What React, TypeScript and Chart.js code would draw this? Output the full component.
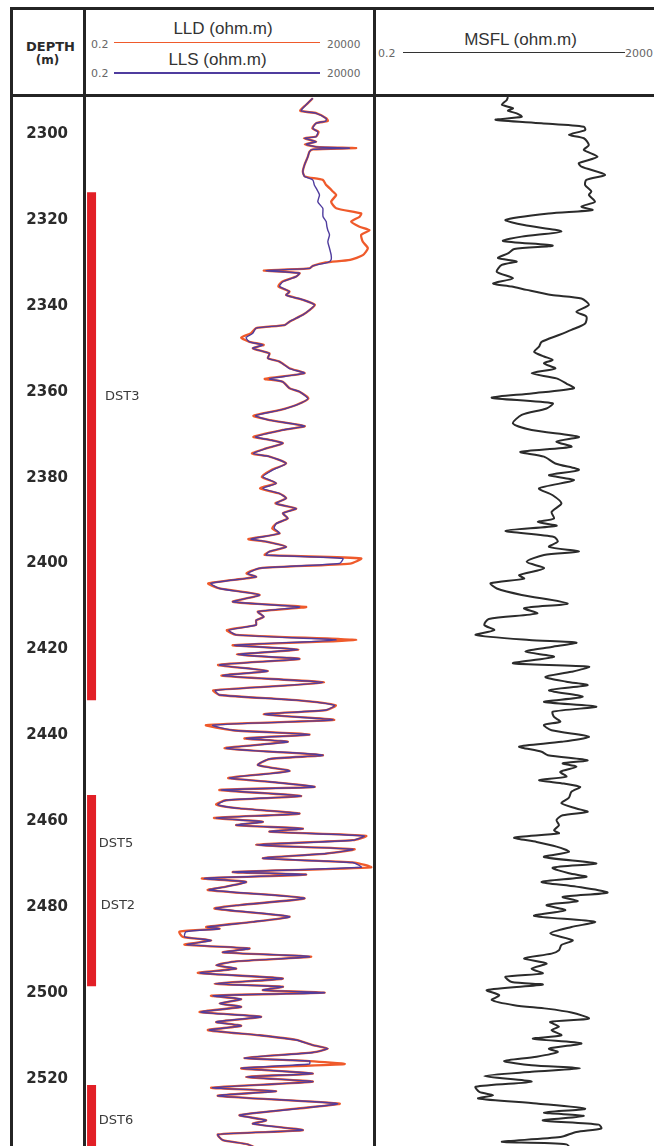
import React, { useEffect, useRef } from "react";
import { Chart, registerables } from "chart.js";

Chart.register(...registerables);

// ---------------- data ----------------
const DEPTH_MIN = 2291.4;
const DEPTH_MAX = 2540;
const DEPTH_TICKS = [2300, 2320, 2340, 2360, 2380, 2400, 2420, 2440, 2460, 2480, 2500, 2520];

const LL_RANGE = [0.2, 20000];
const MSFL_RANGE = [0.2, 2000];

// depth (m) of the laterolog samples
const LL_DEPTH = [
  2291.7, 2293.2, 2294.6, 2295.2, 2296.4, 2297.0, 2297.5, 2298.7, 2299.5, 2300.6,
  2301.0, 2301.8, 2302.4, 2303.0, 2303.3, 2303.6, 2304.1, 2305.3, 2307.2, 2308.8,
  2309.9, 2310.7, 2311.9, 2312.6, 2313.4, 2314.2, 2315.8, 2317.3, 2318.5, 2319.3,
  2320.4, 2321.6, 2322.4, 2323.5, 2325.1, 2326.6, 2328.2, 2329.3, 2329.9, 2330.7,
  2331.3, 2331.8, 2332.4, 2333.2, 2334.4, 2335.5, 2336.7, 2337.5, 2338.6, 2339.8,
  2341.0, 2342.1, 2343.7, 2344.5, 2345.2, 2346.4, 2347.4, 2348.4, 2349.1, 2349.9,
  2351.1, 2352.2, 2353.0, 2354.6, 2355.7, 2357.0, 2357.7, 2359.2, 2360.0, 2361.6,
  2363.1, 2364.3, 2365.6, 2366.6, 2368.0, 2368.9, 2370.5, 2371.2, 2372.0, 2373.2,
  2374.4, 2375.1, 2376.7, 2378.2, 2379.8, 2381.3, 2382.5, 2383.7, 2384.8, 2386.0,
  2387.2, 2388.3, 2389.5, 2390.7, 2391.8, 2393.0, 2394.3, 2394.9, 2396.1, 2397.2,
  2398.0, 2398.8, 2400.0, 2401.1, 2402.3, 2403.1, 2404.6, 2405.8, 2407.3, 2408.9,
  2410.1, 2411.2, 2412.4, 2413.2, 2414.3, 2415.5, 2416.6, 2417.8, 2419.0, 2420.0,
  2421.2, 2422.2, 2423.6, 2425.0, 2426.1, 2427.7, 2429.5, 2430.6, 2431.8, 2433.0,
  2434.1, 2435.1, 2436.4, 2437.6, 2438.8, 2439.8, 2440.7, 2441.5, 2443.0, 2444.6,
  2445.5, 2446.9, 2448.3, 2449.9, 2450.8, 2452.0, 2452.7, 2454.1, 2455.1, 2456.1,
  2457.0, 2458.2, 2459.2, 2460.1, 2460.9, 2461.7, 2462.4, 2463.4, 2464.4, 2465.5,
  2466.5, 2467.5, 2468.6, 2469.6, 2470.7, 2471.8, 2472.4, 2473.3, 2474.1, 2475.2,
  2476.0, 2477.9, 2479.5, 2480.3, 2482.2, 2483.4, 2484.6, 2485.0, 2485.7, 2486.9,
  2487.7, 2488.7, 2489.6, 2490.5, 2491.5, 2492.6, 2493.5, 2494.3, 2495.3, 2496.6,
  2497.8, 2498.5, 2499.3, 2499.9, 2500.6, 2501.4, 2502.4, 2503.2, 2504.4, 2505.5,
  2506.7, 2507.6, 2508.6, 2509.8, 2510.9, 2512.1, 2512.9, 2513.8, 2515.1, 2515.8,
  2516.5, 2517.5, 2518.7, 2519.5, 2520.6, 2522.0, 2522.8, 2523.9, 2525.7, 2526.9,
  2528.4, 2529.6, 2530.4, 2531.9, 2532.9, 2534.2, 2535.2, 2537.0,
];

// LLS resistivity (ohm.m)
const LLS = [
  1790, 1370, 1121, 2046, 3055, 3000, 2046, 1790, 2188, 2046,
  1282, 2046, 1370, 2046, 7797, 1800, 1566, 1465, 1282, 1199,
  1282, 1790, 1900, 2046, 2200, 2339, 2188, 2673, 2673, 2700,
  3055, 3150, 3266, 3492, 3266, 3492, 3733, 3733, 3300, 1790,
  1566, 275, 1049, 918, 538, 470, 702, 614, 1199, 1914,
  1566, 1199, 702, 575, 184, 161, 123, 141, 241, 161,
  315, 294, 470, 702, 1282, 315, 538, 702, 1049, 1465,
  918, 470, 180, 315, 1282, 538, 180, 315, 538, 275,
  165, 315, 614, 360, 241, 411, 240, 470, 614, 411,
  918, 538, 657, 411, 380, 470, 150, 275, 614, 315,
  275, 5962, 5221, 211, 132, 184, 30, 42.4, 211, 72.3,
  1049, 197, 250, 184, 184, 62, 82.7, 4565, 77.3, 981,
  88.4, 1049, 42.4, 294, 48.4, 2673, 36, 42.4, 918, 4270,
  3055, 258, 3993, 32.4, 72.3, 1566, 123, 657, 55.3, 2673,
  315, 197, 702, 63.3, 315, 1914, 45.3, 1121, 55.3, 39.6,
  94.5, 1049, 37.1, 241, 82.7, 1199, 315, 14000, 8909, 184,
  8909, 3055, 241, 8909, 12443, 72.3, 1370, 23.2, 123, 55.3,
  28, 1282, 94.5, 36, 702, 161, 26, 42.4, 11, 10.5,
  30.3, 11.5, 141, 48.4, 1566, 82.7, 37.1, 82.7, 19.5, 538,
  34.7, 538, 241, 2857, 33, 101, 42.4, 101, 20, 225,
  37.1, 101, 28, 211, 918, 1790, 3266, 1790, 115, 1566,
  1566, 101, 1790, 123, 1790, 32, 411, 39.6, 4800, 918,
  94.5, 275, 161, 1199, 39.6, 48.4, 132, 250,
];

// LLD resistivity (ohm.m)
const LLD = [
  1790, 1370, 1080, 2100, 3100, 3266, 2046, 1750, 2250, 2046,
  1250, 2046, 1300, 2046, 10180, 1800, 1566, 1465, 1282, 1199,
  1300, 2673, 3055, 3500, 3993, 4565, 3733, 4565, 12443, 11640,
  8333, 11640, 17374, 12443, 13304, 16256, 13304, 8000, 3000, 1790,
  1566, 250, 1049, 918, 520, 450, 702, 614, 1199, 1950,
  1566, 1199, 702, 575, 184, 150, 101, 141, 250, 161,
  315, 294, 470, 720, 1282, 260, 538, 702, 1049, 1500,
  918, 470, 165, 315, 1300, 538, 165, 315, 538, 275,
  155, 315, 614, 340, 230, 411, 215, 470, 614, 400,
  918, 538, 657, 411, 350, 470, 135, 275, 614, 315,
  260, 12443, 8000, 211, 125, 184, 27, 42.4, 211, 72.3,
  1370, 197, 250, 184, 184, 57, 82.7, 10180, 72, 1000,
  85, 1049, 40, 294, 46, 2800, 33, 42.4, 918, 4500,
  3055, 250, 4200, 24.8, 72.3, 1566, 115, 657, 52, 2673,
  315, 197, 702, 60, 315, 1914, 42, 1121, 55.3, 37,
  94.5, 1049, 34, 241, 82.7, 1199, 315, 15200, 8909, 184,
  9500, 3055, 241, 9500, 18577, 72.3, 1370, 21, 123, 55.3,
  26.5, 1282, 94.5, 34.7, 702, 161, 24.8, 42.4, 8.5, 9.7,
  30.3, 10.4, 141, 48.4, 1675, 82.7, 37.1, 82.7, 17.8, 538,
  34.7, 538, 241, 2857, 30.3, 101, 42.4, 101, 19, 225,
  37.1, 101, 26.5, 211, 918, 1790, 3266, 1790, 115, 1566,
  6378, 101, 1790, 123, 1790, 30.3, 411, 39.6, 5221, 918,
  94.5, 275, 161, 1199, 39.6, 48.4, 132, 250,
];

// depth (m) of the MSFL samples
const MSFL_DEPTH = [
  2291.4, 2292.1, 2293.2, 2294.0, 2294.6, 2295.2, 2296.0, 2296.7, 2297.5, 2298.3,
  2299.1, 2300.2, 2301.0, 2302.6, 2303.7, 2305.3, 2306.8, 2307.6, 2309.5, 2310.7,
  2311.9, 2313.4, 2314.2, 2315.8, 2316.9, 2317.7, 2318.5, 2320.0, 2321.2, 2322.7,
  2323.9, 2324.9, 2326.0, 2326.8, 2327.8, 2328.9, 2329.7, 2330.5, 2332.1, 2333.6,
  2334.8, 2335.5, 2336.3, 2337.5, 2338.3, 2339.8, 2341.4, 2342.5, 2344.1, 2345.6,
  2346.8, 2348.4, 2349.5, 2350.7, 2351.8, 2352.6, 2353.4, 2354.6, 2355.7, 2356.9,
  2358.1, 2359.2, 2360.4, 2361.4, 2362.7, 2363.9, 2365.4, 2367.4, 2368.9, 2370.5,
  2371.6, 2372.8, 2374.0, 2375.1, 2376.7, 2378.2, 2379.4, 2380.6, 2382.5, 2384.1,
  2386.0, 2388.0, 2389.5, 2390.3, 2391.2, 2392.4, 2393.8, 2394.9, 2396.1, 2397.2,
  2398.0, 2399.6, 2401.1, 2402.7, 2403.5, 2404.6, 2405.8, 2407.3, 2409.3, 2410.4,
  2411.6, 2412.9, 2414.3, 2415.5, 2416.6, 2417.8, 2418.4, 2419.4, 2420.5, 2421.7,
  2423.2, 2424.0, 2425.2, 2426.4, 2427.5, 2428.3, 2429.5, 2431.0, 2432.2, 2433.3,
  2434.5, 2435.7, 2436.8, 2437.6, 2438.8, 2440.3, 2441.5, 2442.6, 2443.8, 2444.6,
  2445.8, 2446.5, 2447.3, 2448.5, 2449.6, 2450.4, 2451.2, 2452.0, 2453.1, 2454.5,
  2455.8, 2457.0, 2457.8, 2458.6, 2459.7, 2460.9, 2462.1, 2462.8, 2463.8, 2464.8,
  2465.9, 2467.1, 2468.3, 2469.8, 2470.8, 2472.1, 2472.9, 2474.1, 2475.2, 2476.6,
  2477.6, 2478.6, 2479.5, 2480.7, 2482.0, 2483.4, 2484.6, 2486.1, 2487.7, 2488.8,
  2490.0, 2490.8, 2491.9, 2493.1, 2494.3, 2495.4, 2496.2, 2497.4, 2498.0, 2499.3,
  2500.5, 2501.6, 2502.8, 2503.6, 2504.5, 2505.9, 2506.7, 2507.8, 2508.6, 2509.8,
  2510.6, 2511.7, 2512.9, 2513.7, 2514.8, 2515.8, 2516.8, 2517.5, 2518.3, 2519.3,
  2520.6, 2521.8, 2523.0, 2523.8, 2524.5, 2525.7, 2526.9, 2527.8, 2528.6, 2529.6,
  2530.6, 2531.5, 2532.3, 2533.5, 2534.6, 2535.2, 2537.0,
];

// MSFL resistivity (ohm.m)
const MSFL = [
  2.5, 2.37, 1.92, 3.1, 2.5, 3.63, 4.5, 1.47, 10.55, 64.6,
  68.2, 34.1, 64.6, 80.0, 64.6, 116, 52.2, 58.1, 160, 71.9,
  68.2, 89.0, 80.0, 104, 58.1, 93.9, 14.5, 2.25, 5.0, 24.7,
  4.5, 2.02, 17.0, 3.27, 2.5, 1.63, 3.63, 1.92, 1.55, 3.1,
  1.32, 2.94, 5.56, 16.2, 58.1, 80.0, 46.9, 71.9, 68.2, 37.9,
  22.2, 10.55, 9.48, 7.66, 11.7, 17.0, 11.7, 19.0, 6.89, 20.0,
  30.6, 42.2, 6.89, 1.25, 17.0, 13.06, 4.5, 3.1, 6.89, 52.2,
  20.0, 37.9, 4.26, 11.7, 19.0, 52.2, 14.5, 42.2, 9.48, 17.0,
  24.7, 16.2, 18.0, 8.99, 20.0, 2.25, 18.0, 21.1, 14.5, 52.2,
  11.7, 5.56, 11.7, 4.04, 5.0, 1.19, 1.55, 4.5, 32.3, 5.0,
  8.8, 1.1, 0.909, 1.39, 0.626, 6.19, 46.9, 16.2, 5.28, 18.0,
  3.1, 80.0, 37.9, 12.4, 30.6, 75.8, 14.5, 61.3, 11.7, 110,
  17.0, 18.0, 23.5, 11.7, 16.2, 80.0, 24.7, 4.04, 10.55, 13.8,
  75.8, 26.1, 46.9, 23.5, 30.6, 9.48, 27.5, 55.1, 37.9, 34.1,
  24.7, 46.9, 75.8, 26.1, 20.0, 22.2, 18.0, 22.2, 3.27, 8.53,
  20.0, 34.1, 11.7, 110, 17.0, 34.1, 71.9, 10.55, 46.9, 178,
  26.1, 49.5, 13.06, 29.1, 7.66, 104, 37.9, 15.3, 40.0, 24.7,
  22.2, 16.2, 5.0, 13.06, 6.89, 11.1, 2.25, 2.94, 11.1, 1.01,
  1.72, 1.25, 3.27, 13.06, 37.9, 80.0, 15.3, 22.2, 16.2, 24.7,
  7.27, 58.1, 14.5, 21.1, 8.53, 2.13, 6.89, 55.1, 6.89, 0.909,
  6.89, 0.626, 0.734, 1.32, 0.696, 8.53, 68.2, 11.7, 64.6, 11.1,
  122.6, 136, 46.9, 23.5, 1.92, 30.6, 40,
];

// drill-stem-test intervals
const DST_TOP = [2313.6, 2453.9, 2521.4];
const DST_BASE = [2431.8, 2498.4, 2540];
const DST_X = 0.25;
const DST_NAMES = ["DST3", "DST5", "DST2", "DST6"];
const DST_NAME_DEPTH = [2361.2, 2465.1, 2479.7, 2529.6];
const DST_NAME_X = [0.43, 0.335, 0.36, 0.335];

// ---------------- styles ----------------
const LLD_COLOR = "#ef5a2b";
const LLS_COLOR = "#4f3c9e";
const MSFL_COLOR = "#2b2b2b";
const DST_COLOR = "#e21f26";
const FRAME = "#242424";

const pts = (d: number[], v: number[]) => d.map((y, i) => ({ x: v[i], y }));

const Txt = ({ x, y, children, size, family, weight, color, anchor }: any) => (
  <div
    style={{
      position: "absolute",
      left: x,
      top: y,
      transform: anchor === "left" ? "translate(0,-50%)" : "translate(-50%,-50%)",
      fontSize: size,
      fontFamily: family,
      fontWeight: weight || "normal",
      color,
      lineHeight: 1,
      whiteSpace: "nowrap",
    }}
  >
    {children}
  </div>
);

const Box = ({ l, t, w, h, c }: any) => (
  <div style={{ position: "absolute", left: l, top: t, width: w, height: h, background: c }} />
);

export default function App() {
  const llRef = useRef<HTMLCanvasElement>(null);
  const msRef = useRef<HTMLCanvasElement>(null);

  useEffect(() => {
    const yScale = (show: boolean): any => ({
      type: "linear",
      reverse: true,
      min: DEPTH_MIN,
      max: DEPTH_MAX,
      position: "left",
      display: show,
      grid: { display: false, drawTicks: false },
      border: { display: false },
      ticks: {
        font: { family: "DejaVu Sans", size: 15, weight: "bold" },
        color: "#2b2b2b",
        padding: 18,
        callback: (v: any) => String(v),
      },
      afterBuildTicks: (s: any) => {
        s.ticks = DEPTH_TICKS.map((v) => ({ value: v }));
      },
      afterFit: (s: any) => {
        s.width = 73;
        s.paddingTop = 0;
        s.paddingBottom = 0;
      },
    });

    const dstLabels = {
      id: "dstLabels",
      afterDatasetsDraw(chart: any) {
        const { ctx, scales } = chart;
        ctx.save();
        ctx.font = '13px "DejaVu Sans"';
        ctx.fillStyle = "#3a3a3a";
        ctx.textAlign = "left";
        ctx.textBaseline = "middle";
        DST_NAMES.forEach((n, i) => {
          ctx.fillText(n, scales.x.getPixelForValue(DST_NAME_X[i]), scales.y.getPixelForValue(DST_NAME_DEPTH[i]));
        });
        ctx.restore();
      },
    };

    const common: any = {
      animation: false,
      responsive: false,
      maintainAspectRatio: false,
      devicePixelRatio: 1,
      events: [],
      layout: { padding: 0, autoPadding: false },
      plugins: { legend: { display: false }, tooltip: { enabled: false }, title: { display: false } },
    };

    const c1 = new Chart(llRef.current as HTMLCanvasElement, {
      type: "scatter",
      data: {
        datasets: [
          {
            label: "LLS",
            data: pts(LL_DEPTH, LLS),
            showLine: true,
            borderColor: LLS_COLOR,
            borderWidth: 1.4,
            pointRadius: 0,
            tension: 0.2,
          },
          {
            label: "LLD",
            data: pts(LL_DEPTH, LLD),
            showLine: true,
            borderColor: LLD_COLOR,
            borderWidth: 2.3,
            pointRadius: 0,
            tension: 0.2,
          },
          ...DST_TOP.map((t, i) => ({
            label: "DST",
            data: [
              { x: DST_X, y: t },
              { x: DST_X, y: DST_BASE[i] },
            ],
            showLine: true,
            borderColor: DST_COLOR,
            borderWidth: 9,
            borderCapStyle: "butt",
            pointRadius: 0,
          })),
        ] as any,
      },
      options: {
        ...common,
        scales: {
          x: { type: "logarithmic", min: LL_RANGE[0], max: LL_RANGE[1], display: false },
          y: yScale(true),
        },
      },
      plugins: [dstLabels],
    });

    const c2 = new Chart(msRef.current as HTMLCanvasElement, {
      type: "scatter",
      data: {
        datasets: [
          {
            label: "MSFL",
            data: pts(MSFL_DEPTH, MSFL),
            showLine: true,
            borderColor: MSFL_COLOR,
            borderWidth: 2,
            pointRadius: 0,
            tension: 0.25,
          },
        ] as any,
      },
      options: {
        ...common,
        scales: {
          x: { type: "logarithmic", min: MSFL_RANGE[0], max: MSFL_RANGE[1], display: false },
          y: yScale(false),
        },
      },
    });

    return () => {
      c1.destroy();
      c2.destroy();
    };
  }, []);

  const title = "Liberation Sans";
  const small = "DejaVu Sans";

  return (
    <div
      style={{
        position: "absolute",
        left: 0,
        top: 0,
        width: 654,
        height: 1146,
        overflow: "hidden",
        background: "#ffffff",
      }}
    >
      <canvas
        ref={llRef}
        width={360}
        height={1068}
        style={{ position: "absolute", left: 13, top: 97, width: 360, height: 1068 }}
      />
      <canvas
        ref={msRef}
        width={288}
        height={1068}
        style={{ position: "absolute", left: 376, top: 97, width: 288, height: 1068 }}
      />

      {/* header: depth column */}
      <Txt x={50.5} y={45.5} size={13} family={small} weight="bold" color="#2b2b2b">DEPTH</Txt>
      <Txt x={47.5} y={60} size={12} family={small} weight="bold" color="#2b2b2b">(m)</Txt>

      {/* header: LLD / LLS */}
      <Txt x={223} y={27.5} size={17} family={title} color="#333">LLD (ohm.m)</Txt>
      <Txt x={91} y={43.5} size={11} family={small} color="#666" anchor="left">0.2</Txt>
      <Box l={114} t={41.5} w={206} h={1.6} c={LLD_COLOR} />
      <Txt x={327} y={43.5} size={10.5} family={small} color="#666" anchor="left">20000</Txt>

      <Txt x={217.5} y={59} size={17} family={title} color="#333">LLS (ohm.m)</Txt>
      <Txt x={91} y={73} size={11} family={small} color="#666" anchor="left">0.2</Txt>
      <Box l={114} t={72} w={206} h={1.6} c={LLS_COLOR} />
      <Txt x={327} y={73} size={10.5} family={small} color="#666" anchor="left">20000</Txt>

      {/* header: MSFL */}
      <Txt x={520.5} y={39} size={17} family={title} color="#333">MSFL (ohm.m)</Txt>
      <Txt x={378} y={52.5} size={11} family={small} color="#666" anchor="left">0.2</Txt>
      <Box l={403} t={51.6} w={222} h={1.3} c="#333" />
      <Txt x={625} y={52.5} size={11} family={small} color="#666" anchor="left">2000</Txt>

      {/* frame */}
      <Box l={10} t={7} w={700} h={3} c={FRAME} />
      <Box l={10} t={94} w={700} h={3} c={FRAME} />
      <Box l={10} t={7} w={3} h={1200} c={FRAME} />
      <Box l={83} t={7} w={3} h={1200} c={FRAME} />
      <Box l={373} t={7} w={3} h={1200} c={FRAME} />
    </div>
  );
}
